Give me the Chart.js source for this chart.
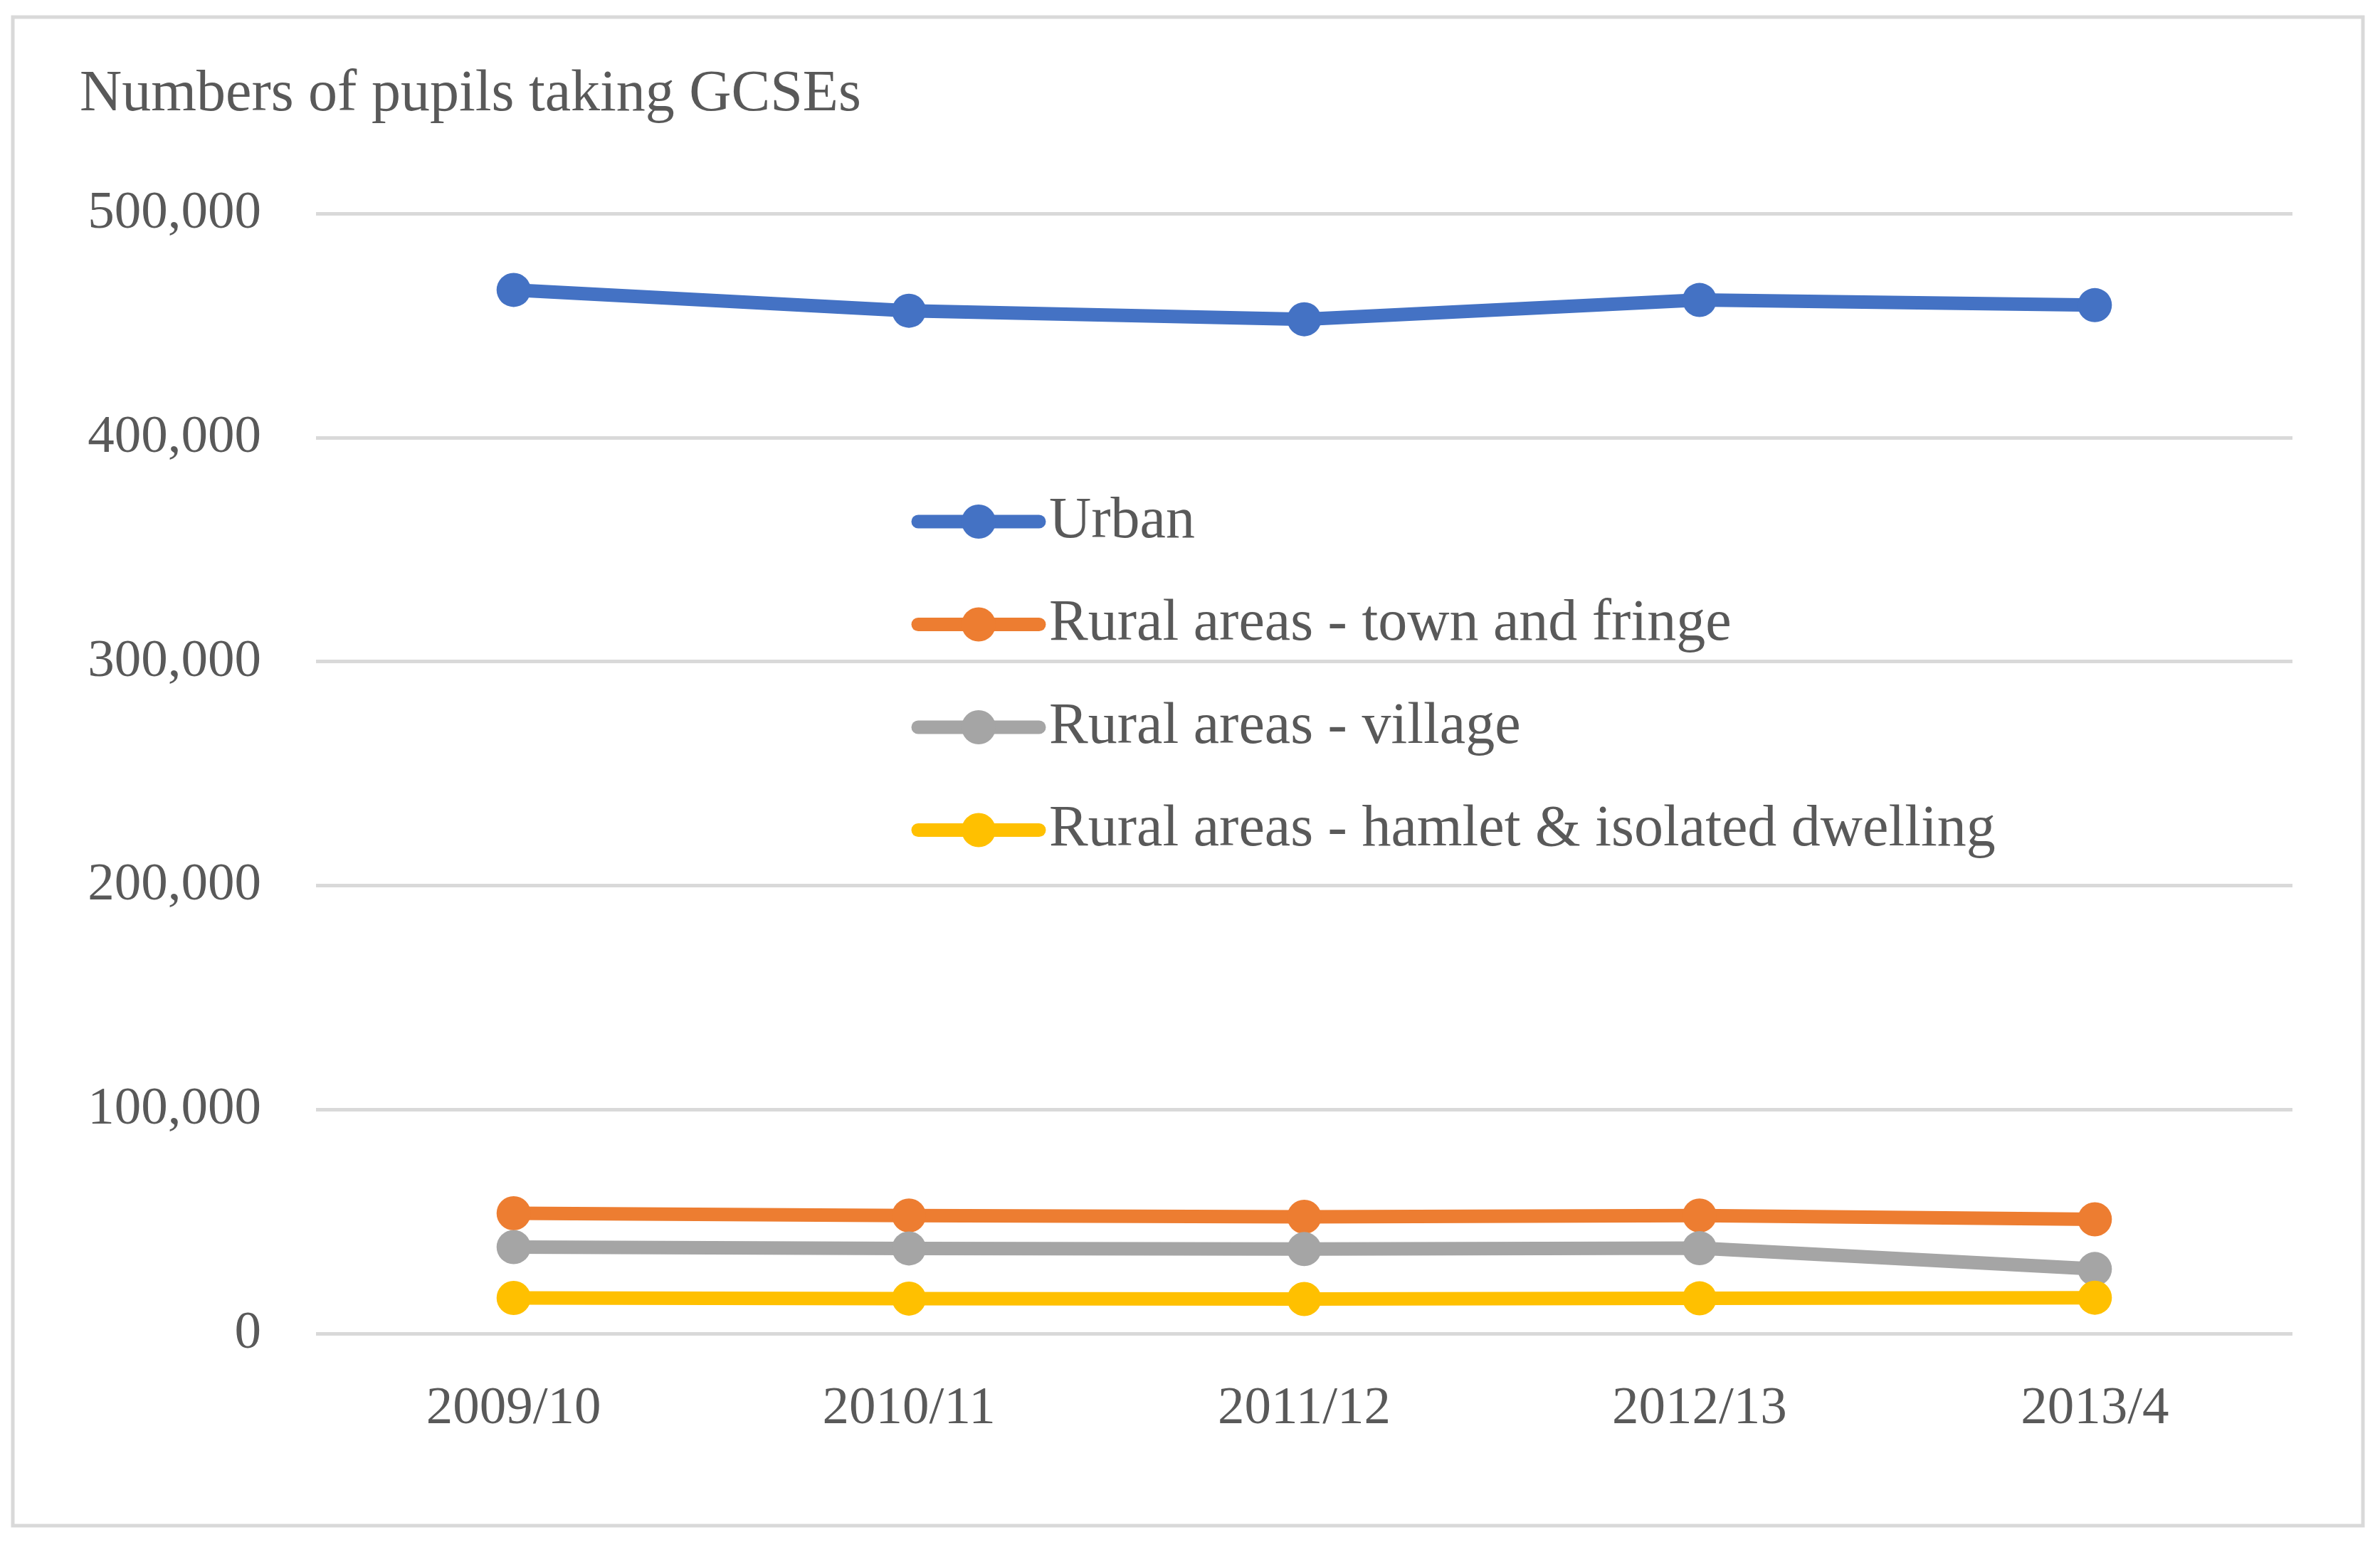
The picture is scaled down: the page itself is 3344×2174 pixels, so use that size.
<!DOCTYPE html>
<html><head><meta charset="utf-8">
<script src="https://cdn.jsdelivr.net/npm/chart.js@4.4.1/dist/chart.umd.min.js"></script>
<style>html,body{margin:0;padding:0;background:#fff;overflow:hidden}#c{display:block}</style>
</head><body>
<canvas id="c" width="3344" height="2174"></canvas>
<script>
const categories = ['2009/10', '2010/11', '2011/12', '2012/13', '2013/4'];
const urban = [466000, 456700, 452900, 461500, 459200];
const townFringe = [53700, 52700, 52100, 52700, 51000];
const village = [38600, 38000, 37700, 38100, 28800];
const hamlet = [15900, 15600, 15400, 15700, 16000];
const seriesNames = ['Urban', 'Rural areas - town and fringe', 'Rural areas - village', 'Rural areas - hamlet & isolated dwelling'];
const seriesColors = ['#4472C4', '#ED7D31', '#A5A5A5', '#FFC000'];
const yMin = 0, yMax = 500000, yStep = 100000;
const titleText = 'Numbers of pupils taking GCSEs';

const FONT = "'Liberation Serif', 'Times New Roman', serif";
const TEXT = '#595959';
const GRID = '#D9D9D9';

const seriesValues = [urban, townFringe, village, hamlet];
const datasets = seriesValues.map((vals, i) => ({
  label: seriesNames[i],
  data: vals,
  borderColor: seriesColors[i],
  backgroundColor: seriesColors[i],
  borderWidth: 19,
  pointRadius: 24,
  pointBorderWidth: 0,
  pointBackgroundColor: seriesColors[i],
  tension: 0,
  fill: false,
  order: seriesValues.length - 1 - i
}));

const frame = {
  id: 'frame',
  beforeDraw(chart) {
    const ctx = chart.ctx;
    ctx.save();
    ctx.fillStyle = '#fff';
    ctx.fillRect(0, 0, chart.width, chart.height);
    ctx.strokeStyle = GRID;
    ctx.lineWidth = 5;
    ctx.strokeRect(18, 24, 3302, 2120);
    ctx.restore();
  }
};

const insideLegend = {
  id: 'insideLegend',
  afterDraw(chart) {
    const ctx = chart.ctx;
    ctx.save();
    const x0 = 1290, x1 = 1460, cx = 1375, tx = 1474, y0 = 733, dy = 144.5;
    chart.data.datasets.forEach((ds, i) => {
      const y = y0 + i * dy;
      ctx.strokeStyle = ds.borderColor;
      ctx.lineWidth = 19;
      ctx.lineCap = 'round';
      ctx.beginPath(); ctx.moveTo(x0, y); ctx.lineTo(x1, y); ctx.stroke();
      ctx.fillStyle = ds.borderColor;
      ctx.beginPath(); ctx.arc(cx, y, 24, 0, Math.PI * 2); ctx.fill();
      ctx.fillStyle = TEXT;
      ctx.font = '82px ' + FONT;
      ctx.textBaseline = 'middle';
      ctx.textAlign = 'left';
      ctx.fillText(ds.label, tx, y);
    });
    ctx.restore();
  }
};

new Chart(document.getElementById('c'), {
  type: 'line',
  data: { labels: categories, datasets },
  options: {
    responsive: false,
    devicePixelRatio: 1,
    animation: false,
    layout: { padding: { left: 112, right: 123, top: 84, bottom: 0 } },
    plugins: {
      legend: { display: false },
      tooltip: { enabled: false },
      title: {
        display: true,
        text: titleText,
        align: 'start',
        color: TEXT,
        font: { family: FONT, size: 82, weight: 'normal' },
        padding: { top: 0, bottom: 118 }
      }
    },
    scales: {
      x: {
        offset: true,
        grid: { display: false, drawTicks: false },
        border: { display: false },
        ticks: { color: TEXT, font: { family: FONT, size: 75 }, padding: 61, maxRotation: 0 },
        afterFit(s) { s.height = 300; }
      },
      y: {
        min: yMin, max: yMax,
        grid: { color: GRID, lineWidth: 5, drawTicks: false },
        border: { display: false },
        ticks: {
          stepSize: yStep,
          color: TEXT,
          font: { family: FONT, size: 75 },
          padding: 77,
          callback: v => v.toLocaleString('en-US')
        },
        afterFit(s) { s.width = 332; }
      }
    }
  },
  plugins: [frame, insideLegend]
});
</script>
</body></html>
